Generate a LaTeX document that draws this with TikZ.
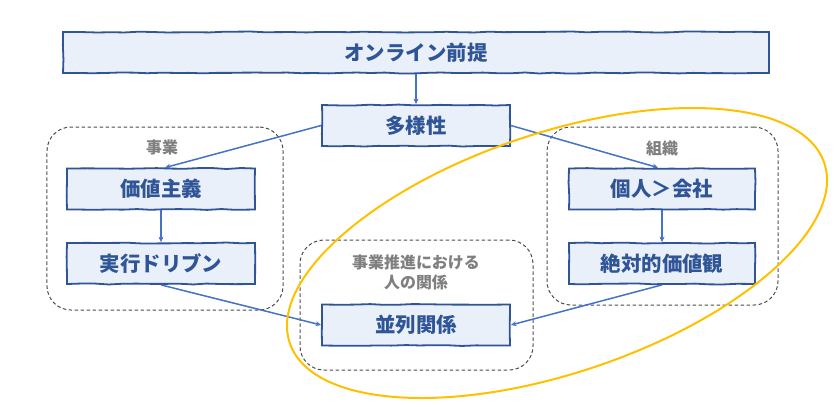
\documentclass[tikz,border=0pt]{standalone}
\usepackage{fontspec}
\newfontfamily\jp{Noto Sans CJK JP}
\usetikzlibrary{arrows.meta,decorations.pathmorphing}
\definecolor{bdr}{HTML}{2F5597}
\definecolor{bfill}{HTML}{EAF0FA}
\definecolor{btext}{HTML}{2F5597}
\definecolor{arr}{HTML}{4472C4}
\definecolor{grpline}{HTML}{4D4D4D}
\definecolor{grptext}{HTML}{7F7F7F}
\definecolor{gold}{HTML}{FFC000}
\pgfmathsetseed{7}
\tikzset{
  box/.style={draw=bdr, fill=bfill, line width=1.8bp, text=btext, inner sep=0pt,
    minimum height=41bp, font=\jp\bfseries\fontsize{20.5}{24}\selectfont,
    decorate, decoration={random steps, segment length=14bp, amplitude=0.5bp}},
  grp/.style={draw=grpline, line width=1bp, dash pattern=on 3.5bp off 2.5bp,
    rounded corners=24bp, inner sep=0pt},
  glabel/.style={text=grptext, inner sep=0pt, align=center,
    font=\jp\bfseries\fontsize{16}{20}\selectfont},
  conn/.style={draw=arr, line width=1.5bp, -{Stealth[length=5.5bp,width=5bp]}}
}
\begin{document}
\begin{tikzpicture}[x=1bp,y=-1bp]
\useasboundingbox (0,0) rectangle (834,406);
% groups
\node[grp, minimum width=236bp, minimum height=183bp] (g1) at (165,218.5) {};
\node[grp, minimum width=231bp, minimum height=178bp] (g2) at (662.5,216) {};
\node[grp, minimum width=233bp, minimum height=130bp] (g3) at (416.5,305) {};
\node[glabel] (l1) at (162,147) {事業};
\node[glabel] (l2) at (662,148) {組織};
\node[glabel] (l3) at (416,272) {事業推進における\\人の関係};
% boxes
\node[box, minimum width=706bp] (top) at (416,52.5) {オンライン前提};
\node[box, minimum width=188bp] (div) at (416,125.5) {多様性};
\node[box, minimum width=188bp] (val) at (161,189) {価値主義};
\node[box, minimum width=188bp] (exe) at (161,263.5) {実行ドリブン};
\node[box, minimum width=186bp] (ind) at (662,189) {個人＞会社};
\node[box, minimum width=186bp] (abs) at (662,263.5) {絶対的価値観};
\node[box, minimum width=188bp] (par) at (416,325) {並列関係};
% connectors
\draw[conn] (top.south) -- (div.north);
\draw[conn] (div.west) -- ([xshift=4bp]val.north);
\draw[conn] (div.east) -- ([xshift=-4bp]ind.north);
\draw[conn] (val.south) -- (exe.north);
\draw[conn] (exe.south) -- (par.west);
\draw[conn] (ind.south) -- (abs.north);
\draw[conn] (abs.south) -- (par.east);
% highlight ellipse
\begin{scope}[shift={(557,253)}, rotate=18.6]
\draw[gold, line width=2bp] (0,0) ellipse [x radius=282, y radius=120];
\end{scope}
\end{tikzpicture}
\end{document}
